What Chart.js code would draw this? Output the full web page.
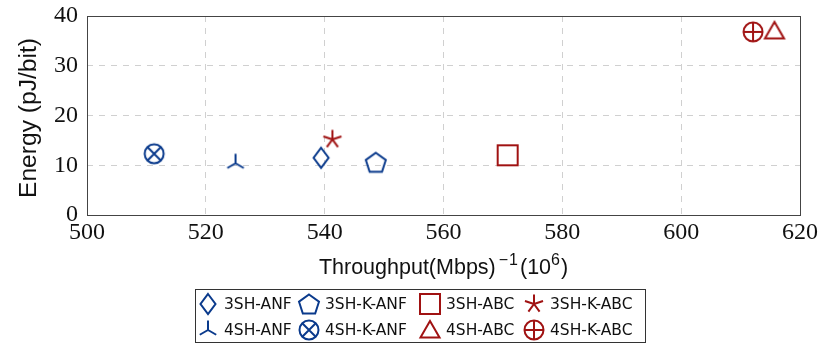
<!DOCTYPE html>
<html><head><meta charset="utf-8">
<script src="https://cdn.jsdelivr.net/npm/chart.js@4/dist/chart.umd.min.js"></script>
<style>
html,body{margin:0;padding:0;background:#fff;}
#wrap{position:relative;width:819px;height:347px;}
#c{position:absolute;left:0;top:0;}
#legend{position:absolute;left:195px;top:289px;width:451px;height:54px;border:1px solid #333;box-sizing:border-box;font-family:"DejaVu Sans",sans-serif;font-size:15.5px;color:#111;}
.row{position:absolute;left:0;height:26px;width:100%;}
.it{position:absolute;top:0;height:26px;display:flex;align-items:center;white-space:nowrap;}
.it canvas{margin-right:3px;}
</style></head>
<body><div id="wrap"><canvas id="c" width="819" height="347"></canvas><div id="legend"></div></div>
<script>
const seriesNames = ["3SH-ANF","3SH-K-ANF","3SH-ABC","3SH-K-ABC","4SH-ANF","4SH-K-ANF","4SH-ABC","4SH-K-ABC"];
const throughputX = [539.4, 548.6, 570.8, 541.3, 525.0, 511.3, 615.7, 612.1];
const energyY     = [11.5, 10.6, 12.0, 15.2, 10.4, 12.3, 37.0, 36.8];
const markerShapes = ["diamond","pentagon","square","star","tri","otimes","triangle","oplus"];
const seriesColors = ["#0a3a8c","#0a3a8c","#a01212","#a01212","#0a3a8c","#0a3a8c","#a01212","#a01212"];
const xTicks = [500,520,540,560,580,600,620];
const yTicks = [0,10,20,30,40];
const yTitle = "Energy (pJ/bit)";

function mk(shape, color){
  const s=26, c=document.createElement('canvas'); c.width=s; c.height=s;
  const g=c.getContext('2d'); g.strokeStyle=color; g.lineWidth=2; g.lineJoin='miter';
  const o=s/2; g.beginPath();
  if(shape==='diamond'){ g.moveTo(o,o-10); g.lineTo(o+7.5,o); g.lineTo(o,o+10); g.lineTo(o-7.5,o); g.closePath(); }
  else if(shape==='pentagon'){ const r=10.5; for(let i=0;i<5;i++){const a=-Math.PI/2+i*2*Math.PI/5; const x=o+r*Math.cos(a), y=o+1+r*Math.sin(a); i?g.lineTo(x,y):g.moveTo(x,y);} g.closePath(); }
  else if(shape==='square'){ g.rect(o-10,o-10,20,20); }
  else if(shape==='star'){ const r=9.5; for(let i=0;i<5;i++){const a=-Math.PI/2+i*2*Math.PI/5; g.moveTo(o,o); g.lineTo(o+r*Math.cos(a),o+r*Math.sin(a));} }
  else if(shape==='tri'){ const r=9.5; for(let i=0;i<3;i++){const a=-Math.PI/2+i*2*Math.PI/3; g.moveTo(o,o); g.lineTo(o+r*Math.cos(a),o+r*Math.sin(a));} }
  else if(shape==='triangle'){ const r=11; for(let i=0;i<3;i++){const a=-Math.PI/2+i*2*Math.PI/3; const x=o+r*Math.cos(a), y=o+2+r*Math.sin(a); i?g.lineTo(x,y):g.moveTo(x,y);} g.closePath(); }
  else if(shape==='otimes'||shape==='oplus'){ const r=9.5; g.arc(o,o,r,0,2*Math.PI); g.stroke(); g.beginPath();
    if(shape==='otimes'){ const d=r*0.7071; g.moveTo(o-d,o-d); g.lineTo(o+d,o+d); g.moveTo(o+d,o-d); g.lineTo(o-d,o+d);} 
    else { g.moveTo(o-r,o); g.lineTo(o+r,o); g.moveTo(o,o-r); g.lineTo(o,o+r);} }
  g.stroke(); return c;
}
const markers = markerShapes.map((s,i)=>mk(s,seriesColors[i]));

const datasets = seriesNames.map((n,i)=>({label:n, data:[{x:throughputX[i], y:energyY[i]}], pointStyle:markers[i], borderColor:seriesColors[i], backgroundColor:'transparent', showLine:false}));

const boxPlugin = { id:'box', afterDraw(ch){ const a=ch.chartArea, g=ch.ctx; g.save(); g.strokeStyle='#444'; g.lineWidth=1; g.setLineDash([]);
  g.strokeRect(Math.round(a.left)+0.5, Math.round(a.top)+0.5, Math.round(a.right-a.left), Math.round(a.bottom-a.top));
  g.fillStyle='#111'; g.textBaseline='alphabetic';
  // x title with superscripts
  const F='"Liberation Sans", sans-serif';
  const main='21.5px '+F, sup='16px '+F;
  const parts=[["Throughput(Mbps)",main,0,0],["\u2212",sup,-9,3],["1",sup,-9,1],["(10",main,0,2],["6",sup,-9,0],[")",main,0,1]];
  let w=0; parts.forEach(p=>{g.font=p[1]; w+=p[3]+g.measureText(p[0]).width;});
  let x=(a.left+a.right)/2-w/2; const by=274;
  parts.forEach(p=>{ x+=p[3]; g.font=p[1]; g.fillText(p[0],x,by+p[2]); x+=g.measureText(p[0]).width; });
  // y title
  g.font='23px '+F; const wy=g.measureText(yTitle).width;
  g.save(); g.translate(36,118); g.rotate(-Math.PI/2); g.scale(160/wy,1); g.textAlign='center'; g.fillText(yTitle,0,0); g.restore();
  g.restore(); } };

new Chart(document.getElementById('c'), {
  type:'scatter',
  data:{datasets},
  options:{
    responsive:false, animation:false, devicePixelRatio:1,
    layout:{padding:{left:0,right:19,top:16,bottom:62}},
    plugins:{legend:{display:false}, tooltip:{enabled:false}},
    scales:{
      x:{type:'linear', min:500, max:620, afterBuildTicks(s){s.ticks=xTicks.map(v=>({value:v}));},
        afterFit(s){s.height=70; s.paddingLeft=0; s.paddingRight=0;},
        grid:{color:'#d0d0d0', lineWidth:1, drawTicks:false}, border:{display:false, dash:[6,6]},
        ticks:{color:'#111', padding:3, maxRotation:0, font:{family:'"Liberation Serif", serif', size:24}}},
      y:{type:'linear', min:0, max:40, afterBuildTicks(s){s.ticks=yTicks.map(v=>({value:v}));},
        afterFit(s){s.width=87; s.paddingTop=0; s.paddingBottom=0;},
        grid:{color:'#d0d0d0', lineWidth:1, drawTicks:false}, border:{display:false, dash:[6,6]},
        ticks:{color:'#111', padding:9, font:{family:'"Liberation Serif", serif', size:24}}}
    }
  },
  plugins:[boxPlugin]
});

// HTML legend
const leg=document.getElementById('legend');
const colLeft=[-1,100,221,325];
for(let r=0;r<2;r++){
  const row=document.createElement('div'); row.className='row'; row.style.top=(1+r*26)+'px'; leg.appendChild(row);
  for(let c=0;c<4;c++){
    const i=r*4+c; const it=document.createElement('div'); it.className='it'; it.style.left=colLeft[c]+'px';
    const cv=mk(markerShapes[i],seriesColors[i]); cv.style.width='26px'; cv.style.height='26px';
    it.appendChild(cv); const sp=document.createElement('span'); sp.textContent=seriesNames[i]; it.appendChild(sp); row.appendChild(it);
  }
}
</script></body></html>
